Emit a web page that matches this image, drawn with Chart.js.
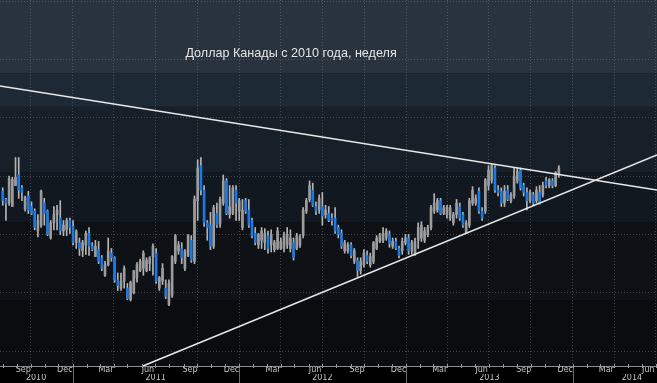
<!DOCTYPE html>
<html><head><meta charset="utf-8">
<script src="https://cdn.jsdelivr.net/npm/chart.js@4.4.1/dist/chart.umd.min.js"></script>
<style>html,body{margin:0;padding:0;background:#000;overflow:hidden}canvas{display:block}</style>
</head><body>
<canvas id="c" width="657" height="383"></canvas>
<script>
const chartTitle = 'Доллар Канады с 2010 года, неделя';
// weekly bars, first week starting:
const firstWeek = '2010-08-01';
const open = [
1.037,1.030,1.027,1.024,1.042,1.051,1.040,1.022,1.033,1.024,
1.020,1.003,1.008,1.027,1.020,0.997,1.010,1.017,1.014,1.003,
1.004,1.012,1.007,0.993,0.993,0.986,0.991,1.001,0.990,0.981,
0.987,0.980,0.965,0.974,0.984,0.980,0.961,0.954,0.960,0.954,
0.944,0.950,0.963,0.969,0.971,0.969,0.975,0.981,0.984,0.954,
0.960,0.954,0.940,0.948,0.977,0.986,0.988,0.971,0.982,0.995,
0.977,1.029,1.059,1.038,1.010,1.008,0.990,1.018,1.009,1.027,
1.046,1.017,1.018,1.038,1.020,1.006,1.029,1.021,1.012,1.001,
0.991,0.995,0.993,0.999,0.991,0.987,0.988,0.988,0.988,0.991,
0.988,0.993,0.988,0.991,0.999,1.020,1.030,1.038,1.024,1.021,
1.024,1.017,1.018,1.014,1.014,1.006,1.001,0.986,0.986,0.991,
0.977,0.978,0.969,0.974,0.982,0.974,0.977,0.988,0.994,0.995,
0.997,1.000,0.990,0.994,0.988,0.986,0.993,0.997,0.986,0.983,
0.995,0.997,0.995,1.000,1.006,1.020,1.021,1.029,1.018,1.017,
1.014,1.010,1.017,1.024,1.017,1.001,1.008,1.027,1.027,1.037,
1.020,1.020,1.042,1.046,1.057,1.038,1.037,1.027,1.038,1.029,
1.033,1.046,1.055,1.042,1.036,1.029,1.034,1.029,1.036,1.034,
1.046,1.042,1.046,1.042,1.051];
const high = [
1.040,1.031,1.050,1.049,1.066,1.066,1.042,1.033,1.037,1.028,
1.022,1.017,1.038,1.031,1.021,1.012,1.024,1.025,1.029,1.012,
1.014,1.014,1.012,1.004,0.997,0.995,1.003,1.006,0.993,0.995,
0.994,0.982,0.977,0.997,0.988,0.981,0.967,0.967,0.973,0.958,
0.960,0.969,0.976,0.979,0.986,0.980,0.981,0.992,0.988,0.964,
0.975,0.961,0.961,0.982,1.000,0.994,0.993,0.987,1.000,0.999,
1.033,1.064,1.066,1.042,1.012,1.019,1.025,1.027,1.032,1.051,
1.048,1.042,1.042,1.042,1.031,1.030,1.031,1.030,1.014,1.006,
1.001,1.006,1.005,1.003,1.004,0.995,1.006,0.997,1.002,1.006,
1.004,0.997,1.001,1.000,1.023,1.031,1.046,1.044,1.028,1.034,
1.036,1.025,1.024,1.018,1.023,1.008,1.004,0.995,0.993,0.993,
0.988,0.980,0.980,0.987,0.986,0.984,0.994,0.999,1.001,1.006,
1.005,1.003,0.997,0.997,0.990,0.997,1.000,1.000,0.995,0.997,
1.010,1.011,1.006,1.008,1.025,1.035,1.031,1.031,1.025,1.025,
1.025,1.019,1.030,1.027,1.019,1.012,1.031,1.041,1.034,1.040,
1.023,1.048,1.059,1.060,1.059,1.042,1.040,1.042,1.042,1.036,
1.057,1.057,1.057,1.044,1.040,1.038,1.036,1.041,1.042,1.045,
1.049,1.048,1.048,1.054,1.059];
const low = [
1.025,1.012,1.025,1.024,1.042,1.031,1.029,1.020,1.018,1.017,
1.004,0.998,1.006,1.008,0.999,0.996,1.004,1.004,1.000,0.999,
0.999,1.001,0.991,0.988,0.982,0.981,0.983,0.982,0.986,0.981,
0.975,0.969,0.964,0.973,0.977,0.959,0.952,0.952,0.954,0.944,
0.943,0.949,0.959,0.968,0.965,0.968,0.969,0.965,0.958,0.952,
0.957,0.945,0.939,0.946,0.975,0.983,0.975,0.969,0.981,0.976,
0.975,1.012,1.034,1.007,0.995,0.987,0.988,1.006,1.006,1.025,
1.017,1.014,1.017,1.012,1.012,1.004,1.018,1.006,0.997,0.991,
0.988,0.988,0.987,0.984,0.985,0.985,0.987,0.987,0.985,0.988,
0.985,0.978,0.987,0.989,0.997,1.018,1.028,1.024,1.017,1.018,
1.008,1.014,1.011,1.008,1.001,0.997,0.988,0.984,0.984,0.980,
0.975,0.964,0.966,0.972,0.975,0.972,0.975,0.987,0.993,0.993,
0.995,0.989,0.988,0.987,0.980,0.983,0.991,0.983,0.983,0.982,
0.988,0.994,0.993,0.998,1.004,1.018,1.019,1.017,1.017,1.014,
1.012,1.008,1.014,1.012,1.006,1.001,1.006,1.025,1.025,1.018,
1.012,1.018,1.038,1.044,1.036,1.033,1.024,1.024,1.029,1.027,
1.031,1.044,1.038,1.033,1.021,1.027,1.025,1.027,1.026,1.032,
1.040,1.040,1.040,1.041,1.049];
const close = [
1.029,1.027,1.048,1.047,1.049,1.038,1.036,1.032,1.021,1.018,
1.006,1.012,1.037,1.018,1.000,1.010,1.017,1.021,1.003,1.008,
1.012,1.006,0.993,1.003,0.988,0.993,1.001,0.990,0.987,0.990,
0.977,0.971,0.974,0.986,0.980,0.961,0.956,0.960,0.971,0.945,
0.959,0.969,0.974,0.977,0.984,0.978,0.980,0.990,0.960,0.963,
0.971,0.947,0.958,0.981,0.999,0.991,0.980,0.986,0.999,0.978,
1.030,1.057,1.038,1.010,1.006,0.990,1.023,1.008,1.030,1.046,
1.018,1.024,1.040,1.027,1.029,1.021,1.020,1.008,0.999,0.993,
1.000,1.003,1.001,0.988,1.000,0.993,1.003,0.994,0.999,1.000,
0.997,0.980,0.999,0.997,1.021,1.029,1.042,1.025,1.020,1.031,
1.016,1.021,1.012,1.012,1.003,1.000,0.990,0.993,0.991,0.982,
0.986,0.969,0.977,0.984,0.977,0.981,0.993,0.997,0.999,1.001,
1.003,0.992,0.994,0.988,0.982,0.994,0.997,0.986,0.993,0.994,
1.006,1.008,1.003,1.006,1.023,1.027,1.029,1.018,1.023,1.023,
1.023,1.017,1.027,1.014,1.008,1.010,1.029,1.038,1.031,1.020,
1.014,1.047,1.055,1.059,1.038,1.036,1.027,1.037,1.030,1.034,
1.050,1.054,1.040,1.036,1.029,1.036,1.027,1.038,1.027,1.042,
1.042,1.047,1.042,1.053,1.057];

// trend lines (two end points each)
const upperTrendDates = ['2010-07-26', '2014-07-04'];
const upperTrendValues = [1.1273, 1.0382];
const lowerTrendDates = ['2011-06-04', '2014-07-04'];
const lowerTrendValues = [0.8872, 1.0682];

// axes
const xRange = ['2010-07-26', '2014-07-04'];
const yRange = [0.8872, 1.2011];
const yGridValues = [0.90, 0.95, 1.00, 1.05, 1.10, 1.15, 1.20];
const quarterGridDates = ['2010-10-01','2011-01-01','2011-04-01','2011-07-01','2011-10-01','2012-01-01','2012-04-01','2012-07-01','2012-10-01','2013-01-01','2013-04-01','2013-07-01','2013-10-01','2014-01-01','2014-04-01','2014-07-01'];
const monthLabelDates = ['2010-09-15','2010-12-15','2011-03-15','2011-06-15','2011-09-15','2011-12-15','2012-03-15','2012-06-15','2012-09-15','2012-12-15','2013-03-15','2013-06-15','2013-09-15','2013-12-15','2014-03-15','2014-06-15'];
const monthLabels = ['Sep','Dec','Mar','Jun','Sep','Dec','Mar','Jun','Sep','Dec','Mar','Jun','Sep','Dec','Mar','Jun'];
const yearLabelDates = ['2010-10-13','2011-07-02','2012-07-01','2013-07-02','2014-05-10'];
const yearLabels = ['2010','2011','2012','2013','2014'];
const yearStartDates = ['2011-01-01','2012-01-01','2013-01-01','2014-01-01'];

const day = s => Date.UTC(+s.slice(0,4), +s.slice(5,7)-1, +s.slice(8,10)) / 864e5;
const weekX = open.map((_, i) => day(firstWeek) + 7 * i);

const UP_BODY = '#9c9c9c', DOWN_BODY = '#1d79e2', WICK = '#b4b4b4';
const wickData = weekX.map((x, i) => ({x, y: [low[i], high[i]]}));
const bodyData = weekX.map((x, i) => ({x, y: [open[i], close[i]]}));
const bodyColors = open.map((o, i) => close[i] >= o ? UP_BODY : DOWN_BODY);

const bgPlugin = {
  id: 'bg',
  beforeDraw(chart) {
    const {ctx, chartArea: a} = chart;
    ctx.save();
    ctx.fillStyle = '#000';
    ctx.fillRect(0, 0, chart.width, chart.height);
    const h = a.bottom - a.top;
    const bands = [[0, '#28333d'], [0.2, '#1d2a36'], [0.292, '#172029'], [0.47, '#12181f'], [0.607, '#0e1217'], [0.82, '#0a0c0f']];
    bands.forEach((b, i) => {
      const y0 = a.top + b[0] * h;
      const y1 = i + 1 < bands.length ? a.top + bands[i + 1][0] * h : a.bottom;
      ctx.fillStyle = b[1];
      ctx.fillRect(a.left, y0, a.right - a.left, y1 - y0);
    });
    ctx.restore();
  },
  afterDraw(chart) {
    const {ctx, chartArea: a} = chart;
    const xs = chart.scales.x;
    ctx.save();
    // year separators under the axis
    ctx.strokeStyle = '#6a6a6a';
    ctx.lineWidth = 1;
    yearStartDates.forEach(d => {
      const px = Math.round(xs.getPixelForValue(day(d))) + 0.5;
      ctx.beginPath(); ctx.moveTo(px, a.bottom); ctx.lineTo(px, chart.height); ctx.stroke();
    });
    // month tick marks on axis
    ctx.strokeStyle = '#9a9a9a';
    for (let y = 2010, m = 7; y < 2015; ) {
      const v = Date.UTC(y, m, 1) / 864e5;
      if (v > xs.max) break;
      if (v >= xs.min) {
        const px = Math.round(xs.getPixelForValue(v)) + 0.5;
        ctx.beginPath(); ctx.moveTo(px, a.bottom - 2); ctx.lineTo(px, a.bottom + 2); ctx.stroke();
      }
      m++; if (m > 11) { m = 0; y++; }
    }
    // title
    ctx.fillStyle = '#e6e6e6';
    ctx.font = '12.6px "Liberation Sans", Arial, sans-serif';
    ctx.textAlign = 'center';
    ctx.textBaseline = 'alphabetic';
    ctx.fillText(chartTitle, a.left + (a.right - a.left) * 0.443, a.top + 57);
    ctx.restore();
  }
};

const labelFont = {family: '"DejaVu Sans", sans-serif', size: 8, lineHeight: 1};
const gridColor = 'rgba(140,150,160,0.38)';

new Chart(document.getElementById('c'), {
  data: {
    datasets: [
      {type: 'line', data: upperTrendDates.map((d, i) => ({x: day(d), y: upperTrendValues[i]})),
       borderColor: '#e8e8e8', borderWidth: 1.6, pointRadius: 0, order: 0},
      {type: 'line', data: lowerTrendDates.map((d, i) => ({x: day(d), y: lowerTrendValues[i]})),
       borderColor: '#e8e8e8', borderWidth: 1.6, pointRadius: 0, order: 0},
      {type: 'bar', data: bodyData, backgroundColor: bodyColors, borderWidth: 0,
       barThickness: 2, minBarLength: 1, grouped: false, order: 1},
      {type: 'bar', data: wickData, backgroundColor: WICK, borderWidth: 0,
       barThickness: 1, grouped: false, order: 2}
    ]
  },
  options: {
    responsive: false,
    devicePixelRatio: 1,
    animation: false,
    layout: {padding: {left: 0, right: 0, top: 0, bottom: 1}},
    plugins: {legend: {display: false}, tooltip: {enabled: false}},
    scales: {
      x: {
        type: 'linear', position: 'bottom', weight: 0, offset: false,
        min: day(xRange[0]), max: day(xRange[1]),
        afterBuildTicks: s => { s.ticks = quarterGridDates.map(d => ({value: day(d)})); },
        ticks: {display: false},
        grid: {display: true, offset: false, drawTicks: false, color: gridColor, lineWidth: 1},
        border: {display: true, color: '#8c8c8c', width: 1, dash: [1, 2]}
      },
      xm: {
        type: 'linear', position: 'bottom', weight: 1, offset: false,
        min: day(xRange[0]), max: day(xRange[1]),
        afterBuildTicks: s => { s.ticks = monthLabelDates.map(d => ({value: day(d)})); },
        ticks: {color: '#c4c4c4', font: labelFont, padding: 0, autoSkip: false, maxRotation: 0,
                callback: (v, i) => monthLabels[i]},
        grid: {display: false, drawTicks: false},
        border: {display: false}
      },
      xy: {
        type: 'linear', position: 'bottom', weight: 2, offset: false,
        min: day(xRange[0]), max: day(xRange[1]),
        afterBuildTicks: s => { s.ticks = yearLabelDates.map(d => ({value: day(d)})); },
        ticks: {color: '#c4c4c4', font: labelFont, padding: 0, autoSkip: false, maxRotation: 0,
                callback: (v, i) => yearLabels[i]},
        grid: {display: false, drawTicks: false},
        border: {display: false}
      },
      y: {
        type: 'linear', position: 'left',
        min: yRange[0], max: yRange[1],
        afterBuildTicks: s => { s.ticks = yGridValues.map(v => ({value: v})); },
        ticks: {display: false},
        grid: {display: true, drawTicks: false, color: gridColor, lineWidth: 1},
        border: {display: false, dash: [1, 2]}
      }
    }
  },
  plugins: [bgPlugin]
});
</script>
</body></html>
